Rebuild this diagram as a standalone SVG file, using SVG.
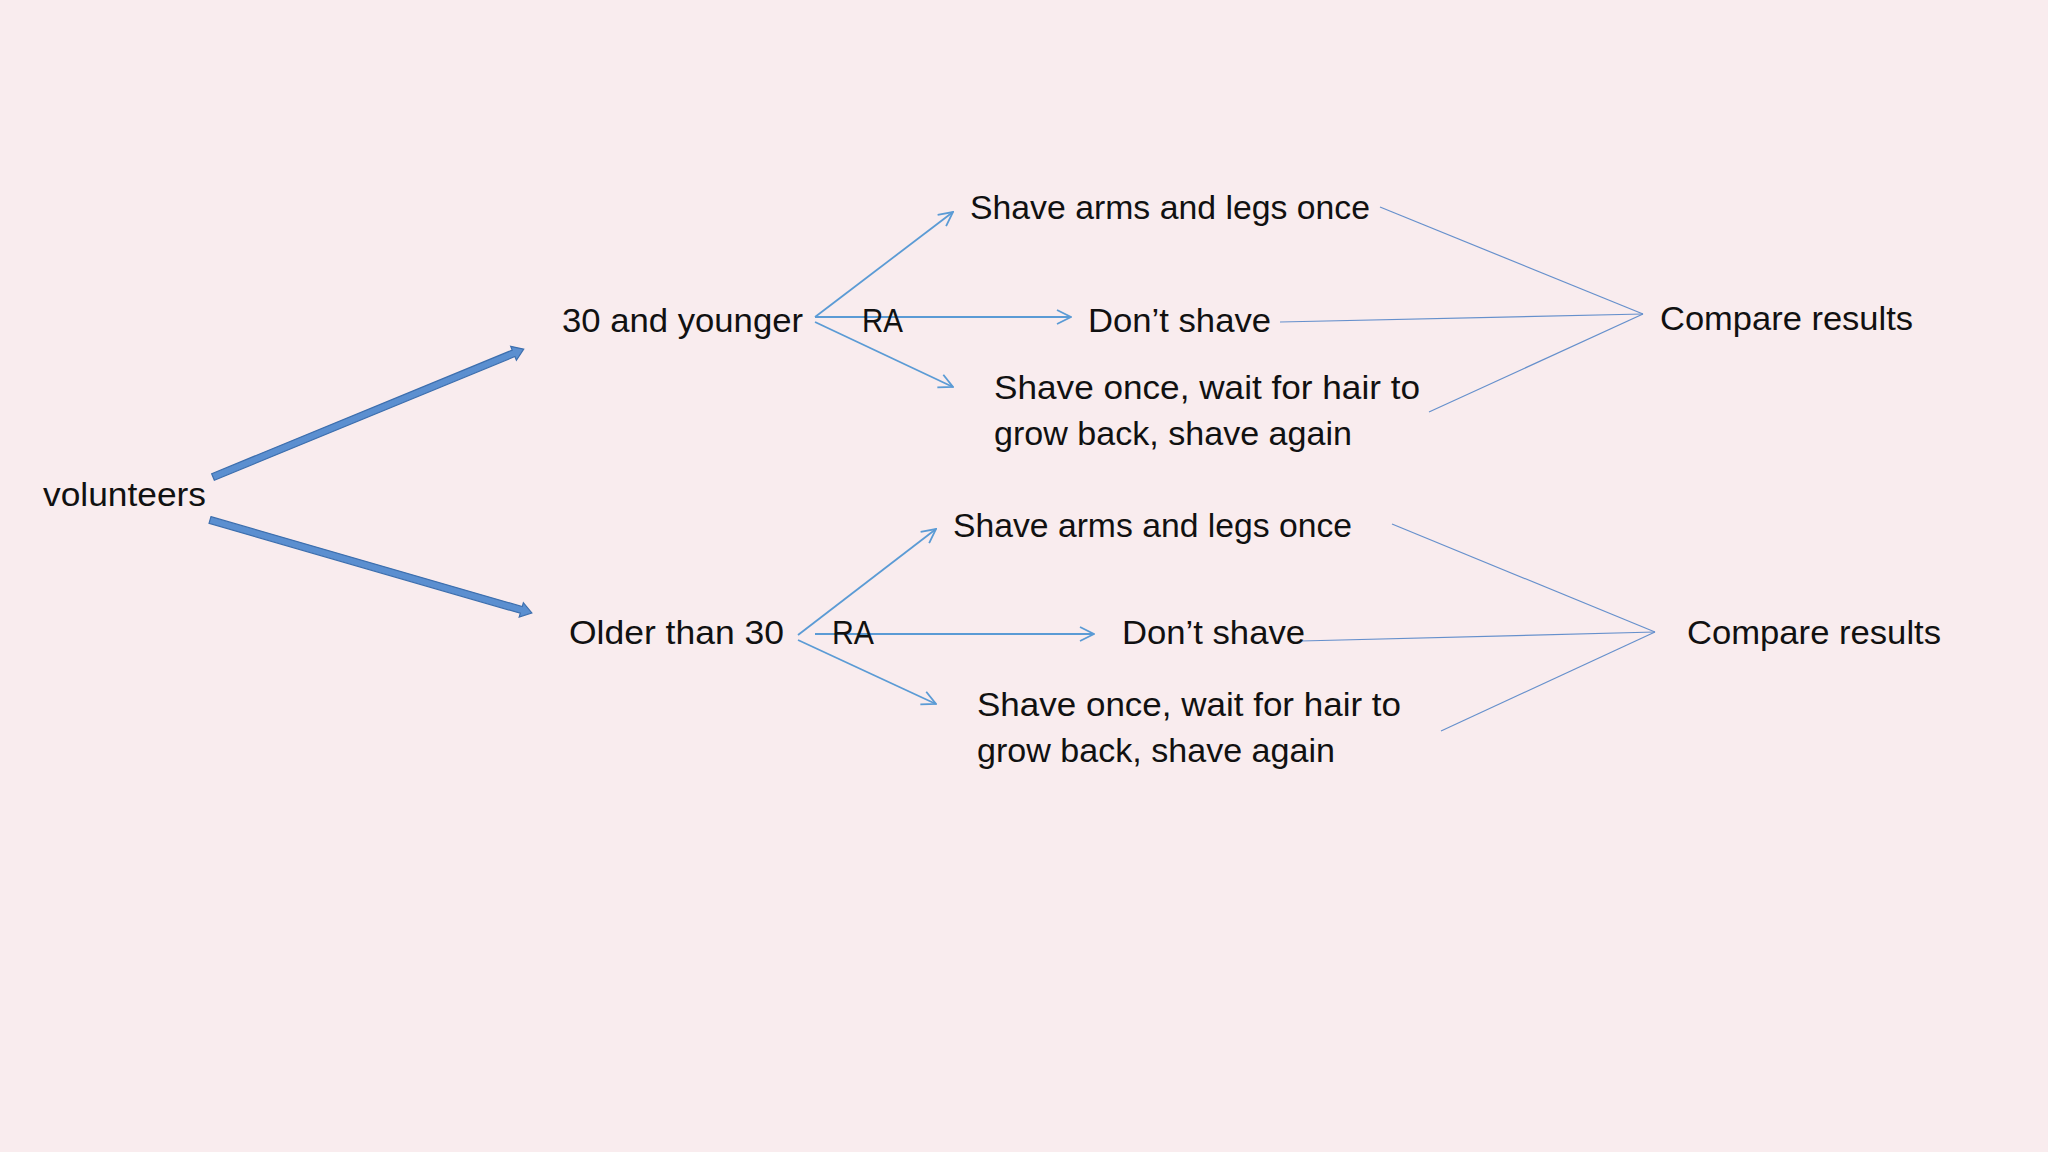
<svg xmlns="http://www.w3.org/2000/svg" width="2048" height="1152" viewBox="0 0 2048 1152">
  <style>
    .t { font-family: "Liberation Sans", Arial, sans-serif; font-size: 34px; fill: #111111; }
    .arr { stroke: #5B9BD5; stroke-width: 1.8; fill: none; marker-end: url(#open); }
    .con { stroke: #6690CC; stroke-width: 1.2; fill: none; }
    .thick { fill: #5B8FD0; stroke: #3D6FAE; stroke-width: 1.2; stroke-linejoin: miter; }
  </style>
  <defs>
    <marker id="open" viewBox="0 0 16 16" refX="15" refY="8" markerWidth="16" markerHeight="16" markerUnits="userSpaceOnUse" orient="auto">
      <path d="M1,1 L15,8 L1,15" fill="none" stroke="#5B9BD5" stroke-width="1.8"/>
    </marker>
  </defs>
  <rect x="0" y="0" width="2048" height="1152" fill="#F9ECEE"/>

  <g id="connectors">
    <!-- thick arrows from volunteers -->
    <g transform="translate(213,477) rotate(-22.37)">
      <polygon class="thick" points="0,-3.5 325,-3.5 325,-7.5 336,0 325,7.5 325,3.5 0,3.5"/>
    </g>
    <g transform="translate(210,520) rotate(16.11)">
      <polygon class="thick" points="0,-3.5 324,-3.5 324,-7.5 335,0 324,7.5 324,3.5 0,3.5"/>
    </g>
    <!-- top group arrows -->
    <line class="arr" x1="815" y1="317" x2="953" y2="212"/>
    <line class="arr" x1="815" y1="317" x2="1071" y2="317"/>
    <line class="arr" x1="815" y1="322" x2="953" y2="387"/>
    <!-- bottom group arrows -->
    <line class="arr" x1="798" y1="635" x2="936" y2="529"/>
    <line class="arr" x1="815" y1="634" x2="1094" y2="634"/>
    <line class="arr" x1="798" y1="640" x2="936" y2="704"/>
    <!-- top group to compare -->
    <line class="con" x1="1380" y1="207" x2="1643" y2="314"/>
    <line class="con" x1="1280" y1="322" x2="1643" y2="314"/>
    <line class="con" x1="1429" y1="412" x2="1643" y2="314"/>
    <!-- bottom group to compare -->
    <line class="con" x1="1392" y1="524" x2="1655" y2="632"/>
    <line class="con" x1="1301" y1="641" x2="1655" y2="632"/>
    <line class="con" x1="1441" y1="731" x2="1655" y2="632"/>
  </g>

  <g id="volunteers"><text class="t" x="43" y="506" textLength="163" lengthAdjust="spacingAndGlyphs">volunteers</text></g>

  <g id="young"><text class="t" x="562" y="332" textLength="241" lengthAdjust="spacingAndGlyphs">30 and younger</text></g>
  <g id="ra-top"><text class="t" x="862" y="332" textLength="41" lengthAdjust="spacingAndGlyphs">RA</text></g>
  <g id="top-shave-once"><text class="t" x="970" y="219" textLength="400" lengthAdjust="spacingAndGlyphs">Shave arms and legs once</text></g>
  <g id="top-dont-shave"><text class="t" x="1088" y="332" textLength="183" lengthAdjust="spacingAndGlyphs">Don’t shave</text></g>
  <g id="top-shave-twice">
    <text class="t" x="994" y="399" textLength="426" lengthAdjust="spacingAndGlyphs">Shave once, wait for hair to</text>
    <text class="t" x="994" y="445" textLength="358" lengthAdjust="spacingAndGlyphs">grow back, shave again</text>
  </g>
  <g id="top-compare"><text class="t" x="1660" y="330" textLength="253" lengthAdjust="spacingAndGlyphs">Compare results</text></g>

  <g id="older"><text class="t" x="569" y="644" textLength="215" lengthAdjust="spacingAndGlyphs">Older than 30</text></g>
  <g id="ra-bottom"><text class="t" x="832" y="644" textLength="42" lengthAdjust="spacingAndGlyphs">RA</text></g>
  <g id="bottom-shave-once"><text class="t" x="953" y="537" textLength="399" lengthAdjust="spacingAndGlyphs">Shave arms and legs once</text></g>
  <g id="bottom-dont-shave"><text class="t" x="1122" y="644" textLength="183" lengthAdjust="spacingAndGlyphs">Don’t shave</text></g>
  <g id="bottom-shave-twice">
    <text class="t" x="977" y="716" textLength="424" lengthAdjust="spacingAndGlyphs">Shave once, wait for hair to</text>
    <text class="t" x="977" y="762" textLength="358" lengthAdjust="spacingAndGlyphs">grow back, shave again</text>
  </g>
  <g id="bottom-compare"><text class="t" x="1687" y="644" textLength="254" lengthAdjust="spacingAndGlyphs">Compare results</text></g>
</svg>
